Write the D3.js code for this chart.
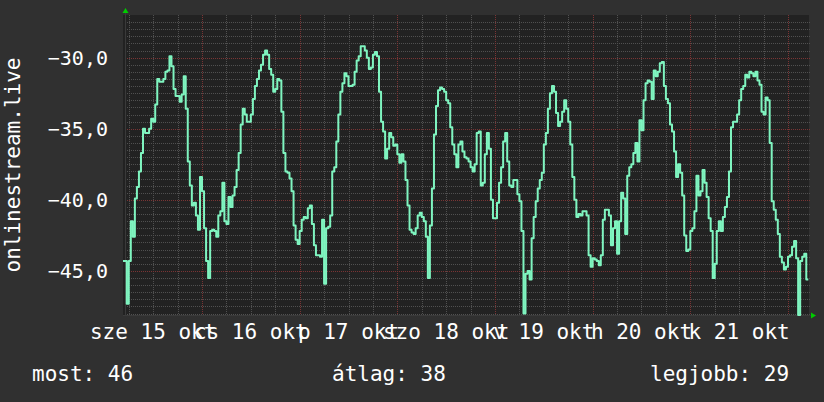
<!DOCTYPE html>
<html>
<head>
<meta charset="utf-8">
<script src="https://cdn.jsdelivr.net/npm/d3@7/dist/d3.min.js"></script>
<style>
  html, body { margin: 0; padding: 0; background: #303030; }
  svg { display: block; }
</style>
</head>
<body>
<div id="chart"></div>
<script>
// 30 minute averages, 15 okt 04:30 -> 22 okt 05:00
var values = [
  -44.3,-44.3,-47.3,-44.3,-41.5,-42.6,-39.9,-39.1,-38.0,-36.7,-35.0,-35.3,-35.3,-35.0,-34.3,-34.5,-33.3,-31.5,-31.7,-31.7,
  -31.5,-31.0,-30.9,-29.9,-30.6,-32.2,-32.7,-32.7,-33.1,-32.6,-31.3,-33.6,-37.3,-39.0,-40.4,-40.2,-41.1,-42.1,-38.4,-39.4,
  -42.0,-44.3,-45.5,-42.2,-42.1,-42.2,-42.6,-41.1,-40.8,-38.8,-41.5,-41.7,-39.8,-40.5,-39.7,-39.1,-37.9,-36.7,-34.7,-33.6,
  -34.0,-34.5,-34.5,-34.0,-32.9,-32.0,-31.5,-30.9,
  -30.5,-29.8,-29.5,-29.8,-30.8,-31.2,-32.4,-32.2,-31.5,-31.6,-33.8,-36.7,-38.0,-38.1,-38.5,-39.4,-41.8,-42.8,-43.1,-42.2,
  -41.4,-41.2,-41.3,-40.6,-40.4,-41.7,-43.2,-43.9,-43.9,-44.0,-41.4,-45.9,-42.0,-41.9,-41.1,-38.0,-37.7,-35.9,-34.0,-32.4,
  -31.8,-31.1,-31.3,-32.0,-32.0,-31.9,-31.0,-30.2,-29.9,-29.2,-29.2,-29.5,-30.0,-30.8,-30.7,-29.8,-29.6,-29.9,-32.4,-34.5,
  -35.2,-37.1,-36.4,-35.3,-35.6,-36.2,-36.1,-36.8,-37.4,
  -36.8,-37.3,-38.6,-40.4,-42.1,-42.3,-42.4,-42.0,-41.1,-40.9,-41.2,-41.5,-42.6,-45.5,-41.8,-39.2,-35.4,-33.4,-32.3,-32.1,
  -32.2,-32.4,-33.0,-33.2,-34.9,-36.1,-36.8,-37.7,-36.1,-35.9,-36.6,-37.0,-37.1,-37.3,-37.7,-38.0,-37.5,-35.3,-35.2,-39.0,
  -38.8,-36.8,-35.3,-36.4,-40.0,-41.3,-41.3,-40.2,-38.8,-37.7,-35.9,-35.3,-37.3,-39.0,-39.1,-38.6,-38.6,-39.6,-40.1,-42.2,
  -48.0,-45.2,-45.0,-45.6,-42.7,-41.2,-40.1,-39.2,-38.6,
  -38.1,-36.1,-35.3,-33.6,-32.5,-32.0,-32.4,-33.9,-34.8,-34.5,-33.8,-33.0,-33.6,-34.5,-36.1,-38.4,-40.0,-41.2,-41.0,-41.1,
  -40.8,-40.8,-41.1,-43.9,-44.7,-44.1,-44.2,-44.3,-44.6,-43.9,-41.4,-40.7,-40.7,-41.1,-43.2,-42.0,-41.5,-43.8,-41.5,-39.5,
  -39.9,-42.4,-38.3,-37.7,-37.5,-36.7,-36.0,-37.3,-34.4,-35.1,-33.0,-31.8,-31.6,-31.7,-32.9,-30.9,-31.3,-31.0,-30.4,-30.3,
  -32.0,-32.9,-33.2,-34.7,-35.2,-36.6,-38.4,-37.5,-38.1,
  -39.7,-42.5,-43.6,-43.5,-42.2,-42.0,-40.8,-38.3,-39.7,-39.4,-37.9,-38.8,-39.8,-41.3,-42.2,-45.5,-44.5,-42.2,-41.5,-42.2,
  -41.2,-40.5,-39.8,-38.0,-34.9,-34.5,-34.5,-34.0,-33.0,-32.2,-32.0,-31.2,-31.4,-31.0,-31.1,-31.3,-31.0,-31.6,-31.9,-33.8,
  -34.0,-32.8,-33.0,-36.0,-40.1,-40.7,-41.4,-42.4,-44.0,-44.4,-44.9,-44.7,-44.0,-43.9,-43.3,-42.9,-44.1,-48.1,-44.3,-44.0,
  -43.8,-45.6,-45.6
];
var seriesStart = new Date(Date.UTC(2014, 9, 15, 4, 30));
var stepMinutes = 30;

var viewStart = new Date(Date.UTC(2014, 9, 15, 4, 35));
var viewEnd = new Date(Date.UTC(2014, 9, 22, 5, 10));
var yMin = -48.1, yMax = -27.0;

var yTicks = [-30, -35, -40, -45];
var dayLabels = ["sze 15 okt", "cs 16 okt", "p 17 okt", "szo 18 okt", "v 19 okt", "h 20 okt", "k 21 okt"];
var dayLabelDays = [15, 16, 17, 18, 19, 20, 21];
var yTitle = "onlinestream.live";
var legendTexts = ["most: 46", "átlag: 38", "legjobb: 29"];

var width = 824, height = 402;
var plotLeft = 123, plotRight = 809, plotTop = 15, plotBottom = 315;
var font = "'DejaVu Sans Mono', monospace";

var data = values.map(function(v, i){
  return { t: d3.utcMinute.offset(seriesStart, i * stepMinutes), v: v };
});

var svg = d3.select("#chart").append("svg")
  .attr("width", width)
  .attr("height", height);

svg.append("rect")
  .attr("width", width).attr("height", height)
  .attr("fill", "#303030");

var x = d3.scaleUtc().domain([viewStart, viewEnd]).range([plotLeft, plotRight]);
var y = d3.scaleLinear().domain([yMin, yMax]).range([plotBottom, plotTop]);

svg.append("rect")
  .attr("x", plotLeft).attr("y", plotTop)
  .attr("width", plotRight - plotLeft).attr("height", plotBottom - plotTop)
  .attr("fill", "#222222");

// grid
var grid = svg.append("g").attr("shape-rendering", "crispEdges");
var minorY = d3.range(Math.ceil(yMin * 2) / 2, yMax, 0.5).filter(function(d){ return d % 5 !== 0; });
grid.selectAll(".hminor").data(minorY).enter().append("line")
  .attr("x1", plotLeft + 2).attr("x2", plotRight + 2)
  .attr("y1", function(d){ return Math.round(y(d)) + 0.5; })
  .attr("y2", function(d){ return Math.round(y(d)) + 0.5; })
  .attr("stroke", "#505050").attr("stroke-dasharray", "1,1");

var sixHours = d3.utcHour.every(6).range(viewStart, viewEnd);
var minorX = sixHours.filter(function(d){ return d.getUTCHours() !== 0; });
var majorX = sixHours.filter(function(d){ return d.getUTCHours() === 0; });
grid.selectAll(".vminor").data(minorX).enter().append("line")
  .attr("y1", plotTop).attr("y2", plotBottom + 2)
  .attr("x1", function(d){ return Math.round(x(d)) + 0.5; })
  .attr("x2", function(d){ return Math.round(x(d)) + 0.5; })
  .attr("stroke", "#505050").attr("stroke-dasharray", "1,1");

grid.selectAll(".hmajor").data(yTicks).enter().append("line")
  .attr("x1", plotLeft + 2).attr("x2", plotRight + 2)
  .attr("y1", function(d){ return Math.round(y(d)) + 0.5; })
  .attr("y2", function(d){ return Math.round(y(d)) + 0.5; })
  .attr("stroke", "#7a3434").attr("stroke-dasharray", "1,1");
grid.selectAll(".vmajor").data(majorX).enter().append("line")
  .attr("y1", plotTop).attr("y2", plotBottom + 2)
  .attr("x1", function(d){ return Math.round(x(d)) + 0.5; })
  .attr("x2", function(d){ return Math.round(x(d)) + 0.5; })
  .attr("stroke", "#7a3434").attr("stroke-dasharray", "1,1");

// axes
svg.append("line")
  .attr("x1", plotLeft).attr("x2", plotRight + 2)
  .attr("y1", plotBottom + 0.5).attr("y2", plotBottom + 0.5)
  .attr("stroke", "#3a3a3a");
svg.append("line")
  .attr("x1", plotLeft + 2.5).attr("x2", plotLeft + 2.5)
  .attr("y1", plotTop - 2).attr("y2", plotBottom + 1)
  .attr("stroke", "#3a3a3a");
svg.append("path")
  .attr("d", "M" + (plotLeft - 0.5) + "," + (plotTop - 2) + "L" + (plotLeft + 2.5) + "," + (plotTop - 7) + "L" + (plotLeft + 5.5) + "," + (plotTop - 2) + "Z")
  .attr("fill", "#00cc00");
svg.append("path")
  .attr("d", "M" + (plotRight + 2) + "," + (plotBottom - 2.5) + "L" + (plotRight + 7) + "," + (plotBottom + 0.5) + "L" + (plotRight + 2) + "," + (plotBottom + 3.5) + "Z")
  .attr("fill", "#00cc00");

// series, drawn as steps like rrdtool does
var line = d3.line()
  .x(function(d){ return x(d.t); })
  .y(function(d){ return y(d.v); })
  .curve(d3.curveStepAfter);

svg.append("defs").append("clipPath").attr("id", "clip")
  .append("rect").attr("x", plotLeft).attr("y", plotTop - 1)
  .attr("width", plotRight - plotLeft).attr("height", plotBottom - plotTop + 2);

svg.append("path")
  .datum(data)
  .attr("clip-path", "url(#clip)")
  .attr("fill", "none")
  .attr("stroke", "#7ff5c0")
  .attr("stroke-width", 2)
  .attr("stroke-linejoin", "round")
  .attr("d", line);

// y labels
svg.selectAll(".ylabel").data(yTicks).enter().append("text")
  .attr("x", 108)
  .attr("y", function(d){ return y(d) + 7.5; })
  .attr("text-anchor", "end")
  .attr("font-family", font)
  .attr("font-size", 20)
  .attr("fill", "#ffffff")
  .text(function(d){ return d3.format(".1f")(d).replace(".", ","); });

// x labels
svg.selectAll(".xlabel").data(dayLabels).enter().append("text")
  .attr("x", function(d, i){ return x(new Date(Date.UTC(2014, 9, dayLabelDays[i], 12))); })
  .attr("y", 339)
  .attr("text-anchor", "middle")
  .attr("font-family", font)
  .attr("font-size", 21)
  .attr("fill", "#ffffff")
  .text(function(d){ return d; });

// vertical title
svg.append("text")
  .attr("transform", "translate(20," + ((plotTop + plotBottom) / 2) + ") rotate(-90)")
  .attr("text-anchor", "middle")
  .attr("font-family", font)
  .attr("font-size", 21)
  .attr("fill", "#ffffff")
  .text(yTitle);

// legend
var legendX = [32, 332, 650];
svg.selectAll(".legend").data(legendTexts).enter().append("text")
  .attr("x", function(d, i){ return legendX[i]; })
  .attr("y", 381)
  .attr("font-family", font)
  .attr("font-size", 21)
  .attr("fill", "#ffffff")
  .text(function(d){ return d; });
</script>
</body>
</html>
